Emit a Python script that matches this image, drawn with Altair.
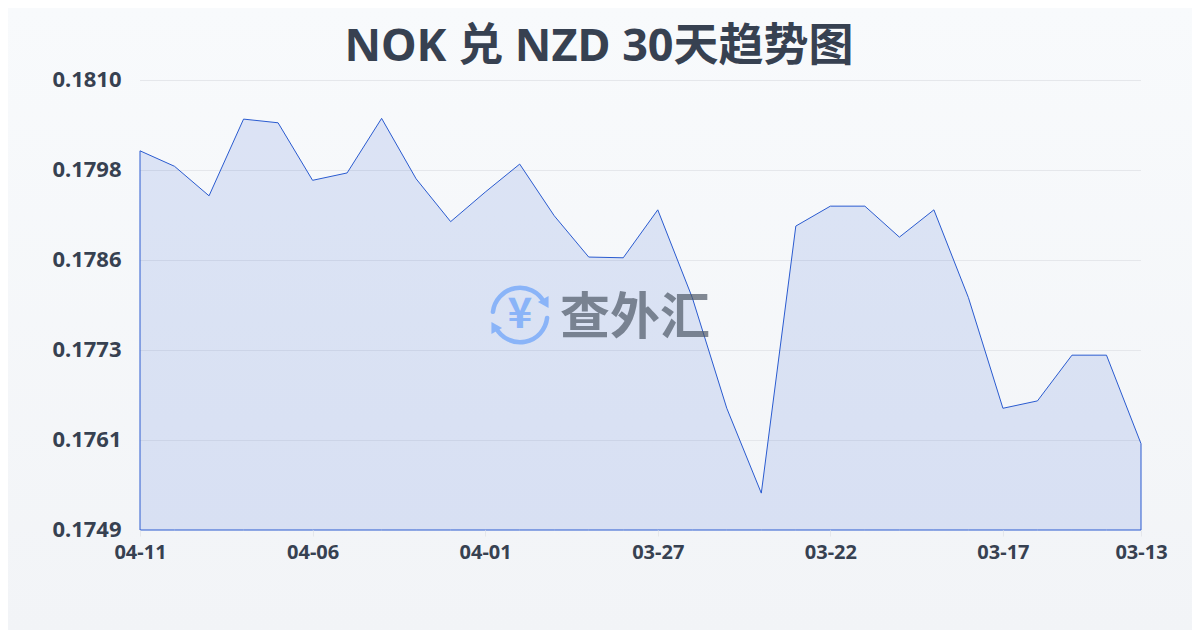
import altair as alt
import pandas as pd

dates = ["04-11","04-10","04-09","04-08","04-07","04-06","04-05","04-04","04-03","04-02",
         "04-01","03-31","03-30","03-29","03-28","03-27","03-26","03-25","03-24","03-23",
         "03-22","03-21","03-20","03-19","03-18","03-17","03-16","03-15","03-14","03-13"]
rates = [0.18004,0.17983,0.17943,0.18047,0.18042,0.17964,0.17974,0.18048,0.17966,0.17908,
         0.17948,0.17986,0.17916,0.17860,0.17859,0.17924,0.17805,0.17655,0.17540,0.17902,
         0.17929,0.17929,0.17887,0.17924,0.17805,0.17655,0.17665,0.17727,0.17727,0.17607]
x_ticks = ["04-11","04-06","04-01","03-27","03-22","03-17","03-13"]
y_ticks = [0.1749,0.17612,0.17734,0.17856,0.17978,0.1810]

df = pd.DataFrame({"date": dates, "rate": rates})
grid_df = pd.DataFrame({"rate": y_ticks[1:]})
one = df.head(1)
FONT = "Noto Sans, Noto Sans CJK SC"
BLUE = "#2a5bd0"
ICON = "#8ab4f8"
W, H = 1001, 450
y_scale = alt.Scale(domain=[0.1749, 0.1810], nice=False, zero=False)

x = alt.X("date:N", sort=dates, scale=alt.Scale(type="point", padding=0),
          axis=alt.Axis(values=x_ticks, title=None, labelAngle=0, domain=False, grid=False,
                        tickColor="#e5e7eb", tickSize=6, labelFont=FONT, labelFontSize=20,
                        labelFontWeight="bold", labelColor="#374151", labelPadding=6, zindex=1))
y = alt.Y("rate:Q", scale=y_scale,
          axis=alt.Axis(values=y_ticks, format=".4f", title=None, domain=False, ticks=False,
                        grid=False, labelFont=FONT, labelFontSize=22, labelFontWeight="bold",
                        labelColor="#374151", labelPadding=19, labelOffset=-1, zindex=1))

bg = alt.Chart(one).mark_rect(
    clip=False,
    fill=alt.LinearGradient(gradient="linear", x1=0, y1=0, x2=0, y2=1,
                            stops=[alt.GradientStop(offset=0, color="#f8fafc"),
                                   alt.GradientStop(offset=1, color="#f2f4f7")])
).encode(x=alt.value(-132), x2=alt.value(1052), y=alt.value(-72), y2=alt.value(550))

grid = alt.Chart(grid_df).mark_rule(color="#e5e7eb", strokeWidth=1, yOffset=0.5).encode(y=y)

title = alt.Chart(one).mark_text(text="NOK 兑 NZD 30天趋势图", font=FONT, fontSize=45,
                                 fontWeight="bold", color="#374151", align="center",
                                 baseline="middle").encode(x=alt.value(459), y=alt.value(-33))

area = alt.Chart(df).mark_area(color=BLUE, fillOpacity=0.135, stroke=BLUE, strokeWidth=1).encode(
    x=x, y=y, y2=alt.datum(0.1749))

# watermark: 查外汇 logo
cx, cy = 380, 235
arc1 = alt.Chart(one).mark_arc(color=ICON, innerRadius=25, outerRadius=29.5,
                               theta=4.75, theta2=7.45, cornerRadius=2).encode(
    x=alt.value(cx), y=alt.value(cy))
arc2 = alt.Chart(one).mark_arc(color=ICON, innerRadius=25, outerRadius=29.5,
                               theta=1.6, theta2=4.3, cornerRadius=2).encode(
    x=alt.value(cx), y=alt.value(cy))
head1 = alt.Chart(one).mark_point(shape="triangle", filled=True, opacity=1, color=ICON,
                                  size=150, angle=150).encode(
    x=alt.value(cx + 25), y=alt.value(cy - 13))
head2 = alt.Chart(one).mark_point(shape="triangle", filled=True, opacity=1, color=ICON,
                                  size=150, angle=330).encode(
    x=alt.value(cx - 25), y=alt.value(cy + 13))
yen = alt.Chart(one).mark_text(text="¥", font="Noto Sans CJK SC", fontSize=42, fontWeight="bold",
                               color=ICON, align="center", baseline="middle").encode(
    x=alt.value(cx), y=alt.value(cy))
brand = alt.Chart(one).mark_text(text="查外汇", font="Noto Sans CJK SC", fontSize=50,
                                 fontWeight="bold", color="#4b5563", opacity=0.68,
                                 align="left", baseline="middle").encode(
    x=alt.value(420), y=alt.value(239))

chart = alt.layer(bg, grid, title, area, arc1, arc2, head1, head2, yen, brand).properties(
    width=W, height=H,
    padding={"left": 132, "top": 72, "right": 51, "bottom": 100},
    autosize=alt.AutoSizeParams(type="none"),
    background="#f5f7fa",
).configure_view(stroke=None)

chart.save("out.html", embed_options={"renderer": "svg", "actions": False})
